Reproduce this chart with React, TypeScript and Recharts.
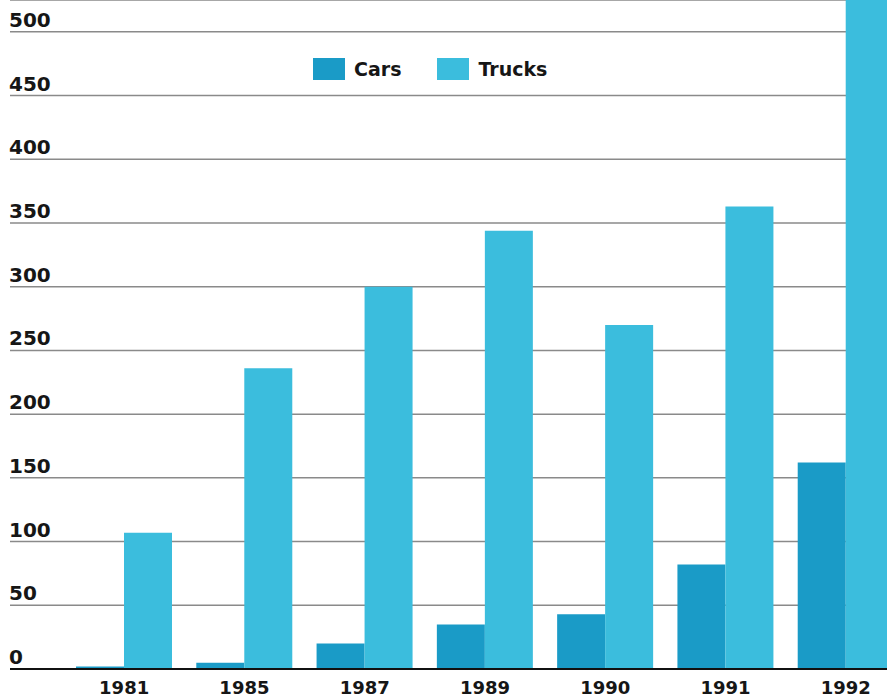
import { BarChart, Bar, XAxis, YAxis, CartesianGrid } from "recharts";

const years = ["1981", "1985", "1987", "1989", "1990", "1991", "1992"];
const cars = [2, 5, 20, 35, 43, 82, 162];
const trucks = [107, 236, 300, 344, 270, 363, 560];
const yTicks = [0, 50, 100, 150, 200, 250, 300, 350, 400, 450, 500];

const CAR_COLOR = "#1a9bc7";
const TRUCK_COLOR = "#3bbddd";
const INK = "#161616";

const data = years.map((year, i) => ({ year, cars: cars[i], trucks: trucks[i] }));

function YTick({ y, payload }: any) {
  return (
    <text x={9} y={y - 5} fill={INK} fontFamily="DejaVu Sans" fontWeight="bold" fontSize={20} textAnchor="start">
      {payload.value}
    </text>
  );
}

function XTick({ x, payload }: any) {
  return (
    <text x={x} y={694} fill={INK} fontFamily="DejaVu Sans" fontWeight="bold" fontSize={18} textAnchor="middle">
      {payload.value}
    </text>
  );
}

function LegendBox() {
  const item = (label: string, color: string) => (
    <div style={{ display: "flex", alignItems: "center", marginRight: 36 }}>
      <div style={{ width: 32, height: 22, background: color, marginRight: 9 }} />
      <span style={{ fontFamily: "DejaVu Sans", fontWeight: "bold", fontSize: 19, color: INK }}>{label}</span>
    </div>
  );
  return (
    <div style={{ position: "absolute", top: 58, left: 313, display: "flex" }}>
      {item("Cars", CAR_COLOR)}
      {item("Trucks", TRUCK_COLOR)}
    </div>
  );
}

export default function App() {
  return (
    <div style={{ position: "absolute", top: 0, left: 0, width: 887, height: 699, overflow: "hidden", background: "#fff" }}>
      <BarChart width={906} height={699} data={data} margin={{ top: 0, right: 0, bottom: 0, left: 0 }} barGap={0} barSize={48}>
        <CartesianGrid vertical={false} stroke="#8a8a8a" strokeWidth={1.5} />
        <XAxis
          dataKey="year"
          height={30}
          padding={{ left: 54, right: 0 }}
          tickLine={false}
          axisLine={{ stroke: "#111", strokeWidth: 2 }}
          tick={<XTick />}
          interval={0}
        />
        <YAxis width={10} domain={[0, 525]} ticks={yTicks} allowDataOverflow axisLine={false} tickLine={false} tick={<YTick />} />
        <Bar dataKey="cars" fill={CAR_COLOR} isAnimationActive={false} />
        <Bar dataKey="trucks" fill={TRUCK_COLOR} isAnimationActive={false} />
      </BarChart>
      <LegendBox />
    </div>
  );
}
